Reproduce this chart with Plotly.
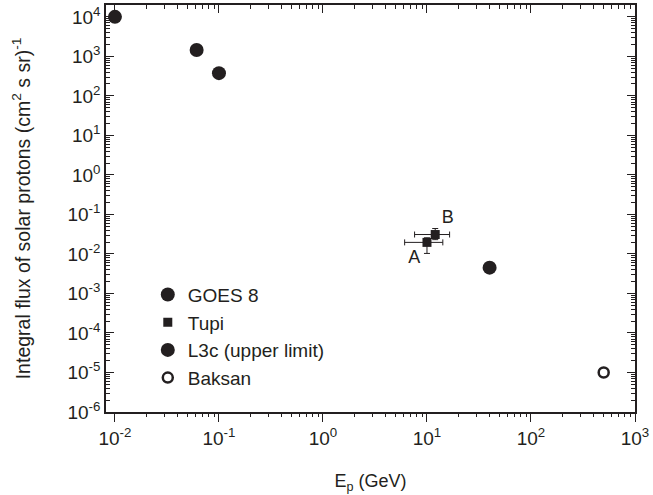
import plotly.graph_objects as go

goes_e = [0.01, 0.061, 0.1]
goes_flux = [1.0e4, 1450, 376]

tupi_labels = ["A", "B"]
tupi_e = [10.0, 12.0]
tupi_flux = [0.0196, 0.031]
tupi_e_minus = [3.9, 4.4]
tupi_e_plus = [4.2, 4.5]
tupi_flux_minus = [0.0093, 0.008]
tupi_flux_plus = [0.006, 0.013]

l3c_e = [40.0]
l3c_flux = [0.0045]

baksan_e = [500.0]
baksan_flux = [1.0e-5]

x_decades = [-2, -1, 0, 1, 2, 3]
y_decades = [-6, -5, -4, -3, -2, -1, 0, 1, 2, 3, 4]
xtick_vals = [10.0 ** d for d in x_decades]
xtick_text = [f"10<sup>{d}</sup>" for d in x_decades]
ytick_vals = [10.0 ** d for d in y_decades]
ytick_text = [f"10<sup>{d}</sup>" for d in y_decades]
x_minor = [m * 10.0 ** d for d in x_decades[:-1] for m in range(2, 10)]
y_minor = [m * 10.0 ** d for d in y_decades for m in range(2, 10)]

INK = "#231f20"
FONT = "Liberation Sans, Arial, sans-serif"

fig = go.Figure()
fig.add_trace(go.Scatter(x=goes_e, y=goes_flux, mode="markers", name="GOES 8",
                         marker=dict(symbol="circle", size=14, color=INK)))
fig.add_trace(go.Scatter(x=tupi_e, y=tupi_flux, mode="markers+text", name="Tupi",
                         text=tupi_labels, textposition=["bottom left", "top right"],
                         textfont=dict(size=18, color=INK, family=FONT),
                         marker=dict(symbol="square", size=9, color=INK),
                         error_x=dict(type="data", symmetric=False, array=tupi_e_plus,
                                      arrayminus=tupi_e_minus, color=INK, thickness=1, width=3),
                         error_y=dict(type="data", symmetric=False, array=tupi_flux_plus,
                                      arrayminus=tupi_flux_minus, color=INK, thickness=1, width=3)))
fig.add_trace(go.Scatter(x=l3c_e, y=l3c_flux, mode="markers", name="L3c (upper limit)",
                         marker=dict(symbol="circle", size=14, color=INK)))
fig.add_trace(go.Scatter(x=baksan_e, y=baksan_flux, mode="markers", name="Baksan",
                         marker=dict(symbol="circle-open", size=10, color=INK,
                                     line=dict(width=2.5, color=INK))))
# invisible traces to activate the overlay axes (top ticks, minor ticks)
for xa, ya in [("x2", "y"), ("x3", "y2"), ("x4", "y2")]:
    fig.add_trace(go.Scatter(x=[1], y=[1], xaxis=xa, yaxis=ya, mode="markers",
                             showlegend=False, marker=dict(opacity=0), hoverinfo="skip"))

xrange = [-2.086, 3.0]
yrange = [-6, 4.3]
common = dict(type="log", showgrid=False, zeroline=False, tickcolor=INK)

fig.update_layout(
    width=653, height=495,
    margin=dict(l=106, r=16, t=4, b=83),
    paper_bgcolor="white", plot_bgcolor="white",
    font=dict(family=FONT, color=INK, size=15),
    showlegend=True,
    legend=dict(x=0.079, y=0.335, xanchor="left", yanchor="top",
                bgcolor="rgba(0,0,0,0)", font=dict(size=19, color=INK),
                itemsizing="trace"),
    xaxis=dict(**common, range=xrange,
               showline=True, linecolor=INK, linewidth=1.5,
               ticks="outside", ticklen=8, tickwidth=1.2,
               tickvals=xtick_vals, ticktext=xtick_text,
               tickfont=dict(size=19, color=INK),
               title=dict(text="E<sub>p</sub> (GeV)", font=dict(size=18, color=INK), standoff=27)),
    xaxis2=dict(**common, range=xrange, overlaying="x", side="top",
                showline=True, linecolor=INK, linewidth=1.5,
                ticks="inside", ticklen=8, tickwidth=1.2,
                tickvals=xtick_vals, showticklabels=False),
    xaxis3=dict(**common, range=xrange, overlaying="x", side="bottom",
                showline=False, ticks="outside", ticklen=4, tickwidth=1,
                tickvals=x_minor, showticklabels=False),
    xaxis4=dict(**common, range=xrange, overlaying="x", side="top",
                showline=False, ticks="inside", ticklen=4, tickwidth=1,
                tickvals=x_minor, showticklabels=False),
    yaxis=dict(**common, range=yrange,
               showline=True, linecolor=INK, linewidth=1.5, mirror="ticks",
               ticks="inside", ticklen=8, tickwidth=1.2,
               tickvals=ytick_vals, ticktext=ytick_text,
               tickfont=dict(size=19, color=INK),
               title=dict(text="Integral flux of solar protons (cm<sup>2</sup> s sr)<sup>-1</sup>",
                          font=dict(size=19.5, color=INK), standoff=32)),
    yaxis2=dict(**common, range=yrange, overlaying="y", side="left",
                showline=False, mirror="ticks", ticks="inside", ticklen=4, tickwidth=1,
                tickvals=y_minor, showticklabels=False),
)

fig.write_html("out.html")
